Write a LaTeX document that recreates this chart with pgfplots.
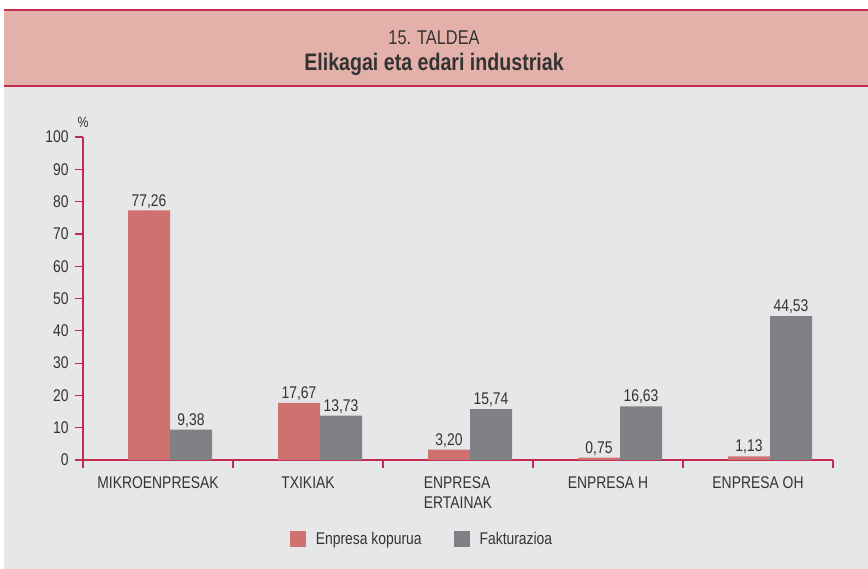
\documentclass[border=0pt]{standalone}
\usepackage{fontspec}
\setmainfont{Liberation Sans}[FakeStretch=0.82]
\usepackage{pgfplots}
\pgfplotsset{compat=1.18}
\definecolor{bgray}{HTML}{E6E7E9}
\definecolor{hdr}{HTML}{E4B1AA}
\definecolor{crim}{HTML}{C42A52}
\definecolor{redbar}{HTML}{CF716F}
\definecolor{graybar}{HTML}{808184}
\definecolor{txt}{HTML}{333333}

\begin{document}
\begin{tikzpicture}[x=1bp,y=1bp]
\useasboundingbox (0,0) rectangle (868,-569);
\fill[white] (0,0) rectangle (868,-569);
\fill[hdr] (4,-10) rectangle (868,-86);
\fill[bgray] (4,-86) rectangle (868,-569);
\draw[crim, line width=1.5bp] (4,-10) -- (868,-10);
\draw[crim, line width=1.5bp] (4,-86) -- (868,-86);
\node[txt, font=\fontsize{20}{24}\selectfont] at (434,-38) {15. TALDEA};
\node[txt, font=\fontsize{24}{28}\selectfont\bfseries] at (434,-64) {Elikagai eta edari industriak};

\begin{axis}[
  at={(83bp,-460bp)}, anchor=south west,
  scale only axis, width=750bp, height=323bp,
  xmin=-0.5, xmax=4.5, ymin=0, ymax=100,
  axis x line=bottom, axis y line=left,
  axis line style={crim, line width=1.2bp, -},
  clip=false,
  ytick={0,10,...,100},
  y tick style={crim, line width=1.2bp},
  tick align=outside, major tick length=8bp,
  /pgf/number format/assume math mode=true,
  ticklabel style={txt, font=\fontsize{17}{20}\selectfont},
  yticklabel style={xshift=-3bp},
  xtick={0,1,2,3,4},
  xticklabels={MIKROENPRESAK,TXIKIAK,{ENPRESA\\ERTAINAK},ENPRESA H,ENPRESA OH},
  xticklabel style={align=left, yshift=-5bp},
  x tick style={draw=none},
  extra x ticks={-0.5,0.5,1.5,2.5,3.5,4.5},
  extra x tick labels={},
  extra x tick style={x tick style={draw=crim, line width=1.2bp}},
  point meta=explicit symbolic,
  nodes near coords,
  every node near coord/.append style={txt, font=\fontsize{17}{20}\selectfont, inner sep=2bp},
  legend style={at={(0.452,-0.245)}, anchor=center, draw=none, fill=none,
    legend columns=2, font=\fontsize{17}{20}\selectfont, text=txt,
    /tikz/every even column/.append style={column sep=30bp}},
  legend image code/.code={\fill[#1] (0bp,-8bp) rectangle (16bp,8bp); \path (24bp,0bp);},
]
\addplot[ybar, bar width=42bp, bar shift=-9bp, fill=redbar, draw=none,
  every node near coord/.append style={xshift=-9bp}] coordinates {
  (0,77.26) [77,26]
  (1,17.67) [17,67]
  (2,3.20)  [3,20]
  (3,0.75)  [0,75]
  (4,1.13)  [1,13]
};
\addlegendentry{Enpresa kopurua}
\addplot[ybar, bar width=42bp, bar shift=33bp, fill=graybar, draw=none,
  every node near coord/.append style={xshift=33bp}] coordinates {
  (0,9.38)  [9,38]
  (1,13.73) [13,73]
  (2,15.74) [15,74]
  (3,16.63) [16,63]
  (4,44.53) [44,53]
};
\addlegendentry{Fakturazioa}
\node[txt, font=\fontsize{15}{18}\selectfont] at ([yshift=15bp]rel axis cs:0,1) {\%};
\end{axis}
\end{tikzpicture}
\end{document}
